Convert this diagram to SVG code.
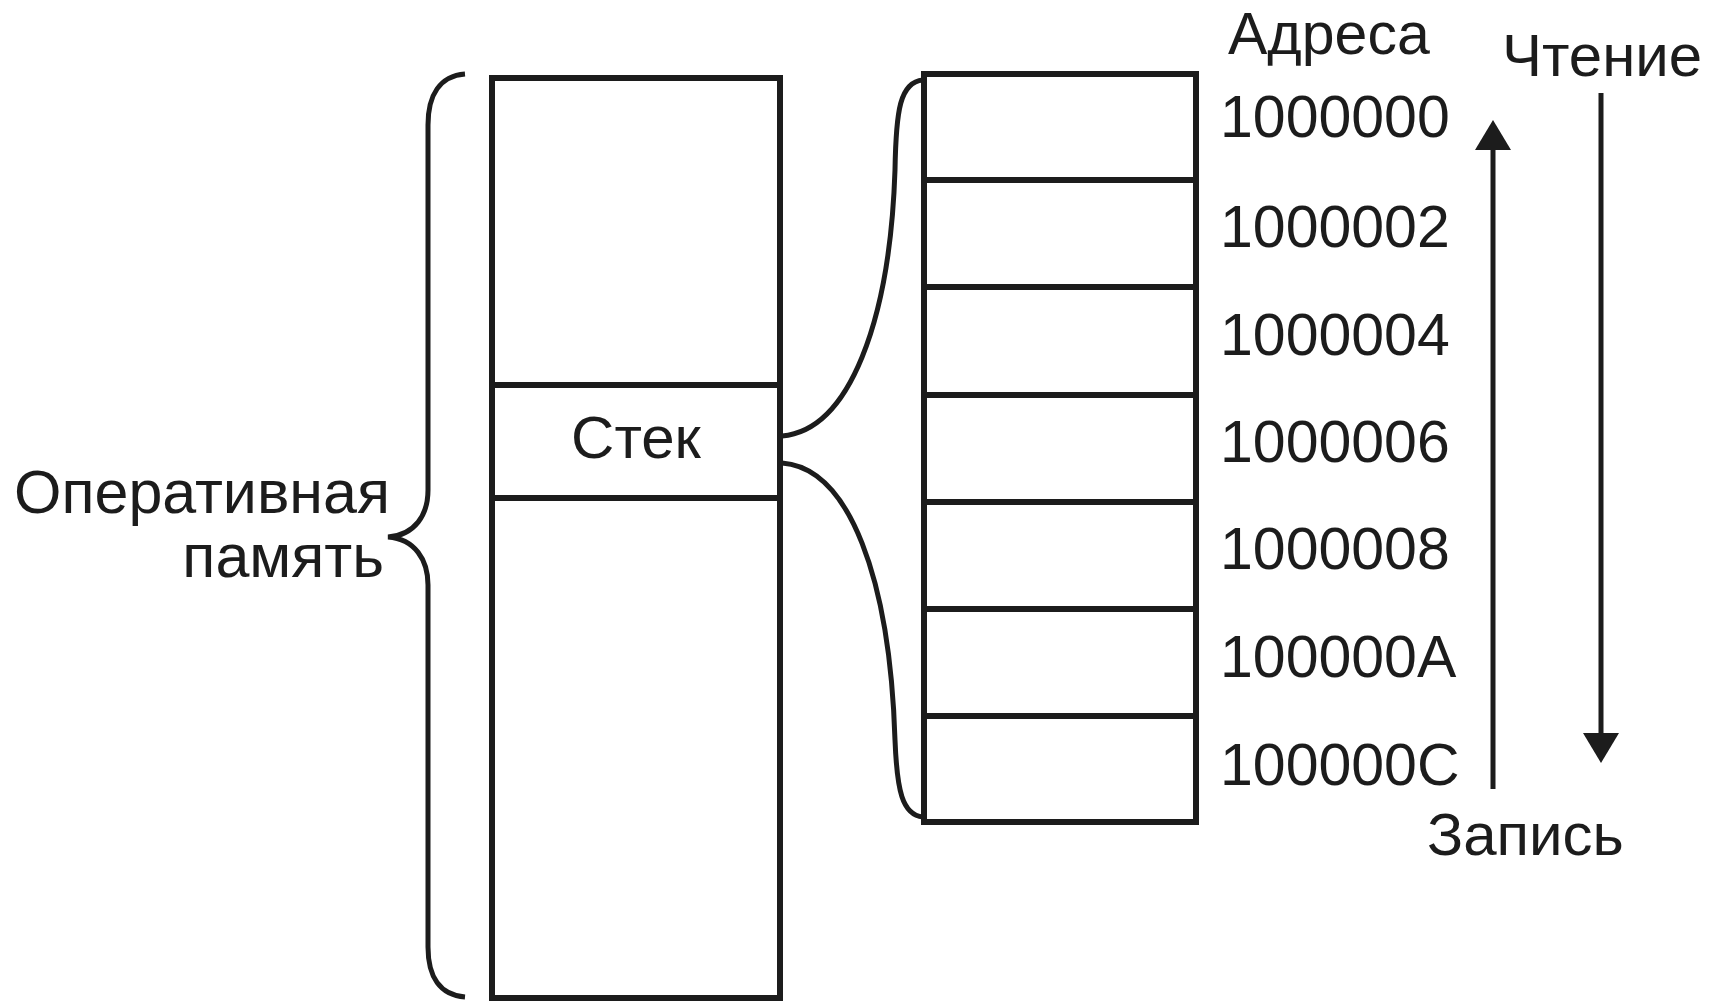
<svg xmlns="http://www.w3.org/2000/svg" width="1727" height="1001" viewBox="0 0 1727 1001">
<style>
  .ln { fill: none; stroke: #1c1c1c; stroke-linecap: butt; }
  .box { fill: #ffffff; stroke: #1c1c1c; stroke-width: 6; }
  .t { font-family: "Liberation Sans", Arial, sans-serif; font-size: 60px; fill: #1c1c1c; }
  .lt { font-family: "Liberation Sans", Arial, sans-serif; font-size: 61px; fill: #1c1c1c; }
  .addr { font-family: "Liberation Sans", Arial, sans-serif; font-size: 59px; fill: #1c1c1c; }
</style>
<defs>
  <marker id="ah" viewBox="0 0 30 36" refX="0" refY="18" markerWidth="30" markerHeight="36" markerUnits="userSpaceOnUse" orient="auto">
    <path d="M0,0 L30,18 L0,36 z" fill="#1c1c1c"/>
  </marker>
</defs>
<rect x="0" y="0" width="1727" height="1001" fill="#ffffff"/>

<g id="ram-brace">
  <path class="ln" stroke-width="5" d="M465,74 C440,76 428,95 428,125 L428,490 C428,515 415,535 388,537 C415,539 428,560 428,585 L428,947 C428,977 440,995 465,997"/>
  <text class="lt" x="390" y="513" text-anchor="end">Оперативная</text>
  <text class="lt" x="384" y="577" text-anchor="end">память</text>
</g>

<g id="memory">
  <rect class="box" x="492" y="78" width="288" height="920" stroke-width="7"/>
  <line class="ln" stroke-width="6" x1="492" y1="385" x2="780" y2="385"/>
  <line class="ln" stroke-width="6" x1="492" y1="498" x2="780" y2="498"/>
  <text class="t" x="636" y="458" text-anchor="middle">Стек</text>
</g>

<g id="connectors">
  <path class="ln" stroke-width="5" d="M782,436 C850,430 890,320 895,170 C896,110 900,82 923,80"/>
  <path class="ln" stroke-width="5" d="M782,463 C850,468 890,580 895,740 C897,790 902,815 923,817"/>
  <line class="ln" stroke-width="5" x1="1493" y1="789" x2="1493" y2="150" marker-end="url(#ah)"/>
  <line class="ln" stroke-width="5" x1="1601" y1="93" x2="1601" y2="733" marker-end="url(#ah)"/>
</g>

<g id="stack">
  <rect class="box" x="924" y="74" width="272" height="748"/>
  <line class="ln" stroke-width="6" x1="924" y1="180" x2="1196" y2="180"/>
  <line class="ln" stroke-width="6" x1="924" y1="287" x2="1196" y2="287"/>
  <line class="ln" stroke-width="6" x1="924" y1="395" x2="1196" y2="395"/>
  <line class="ln" stroke-width="6" x1="924" y1="502" x2="1196" y2="502"/>
  <line class="ln" stroke-width="6" x1="924" y1="609" x2="1196" y2="609"/>
  <line class="ln" stroke-width="6" x1="924" y1="716" x2="1196" y2="716"/>
</g>

<g id="addresses">
  <text class="addr" x="1228" y="54">Адреса</text>
  <text class="addr" x="1220" y="137">1000000</text>
  <text class="addr" x="1220" y="247">1000002</text>
  <text class="addr" x="1220" y="355">1000004</text>
  <text class="addr" x="1220" y="462">1000006</text>
  <text class="addr" x="1220" y="569">1000008</text>
  <text class="addr" x="1220" y="677">100000A</text>
  <text class="addr" x="1220" y="785">100000C</text>
</g>

<g id="labels">
  <text class="t" x="1502" y="76">Чтение</text>
  <text class="t" x="1427" y="855">Запись</text>
</g>
</svg>
